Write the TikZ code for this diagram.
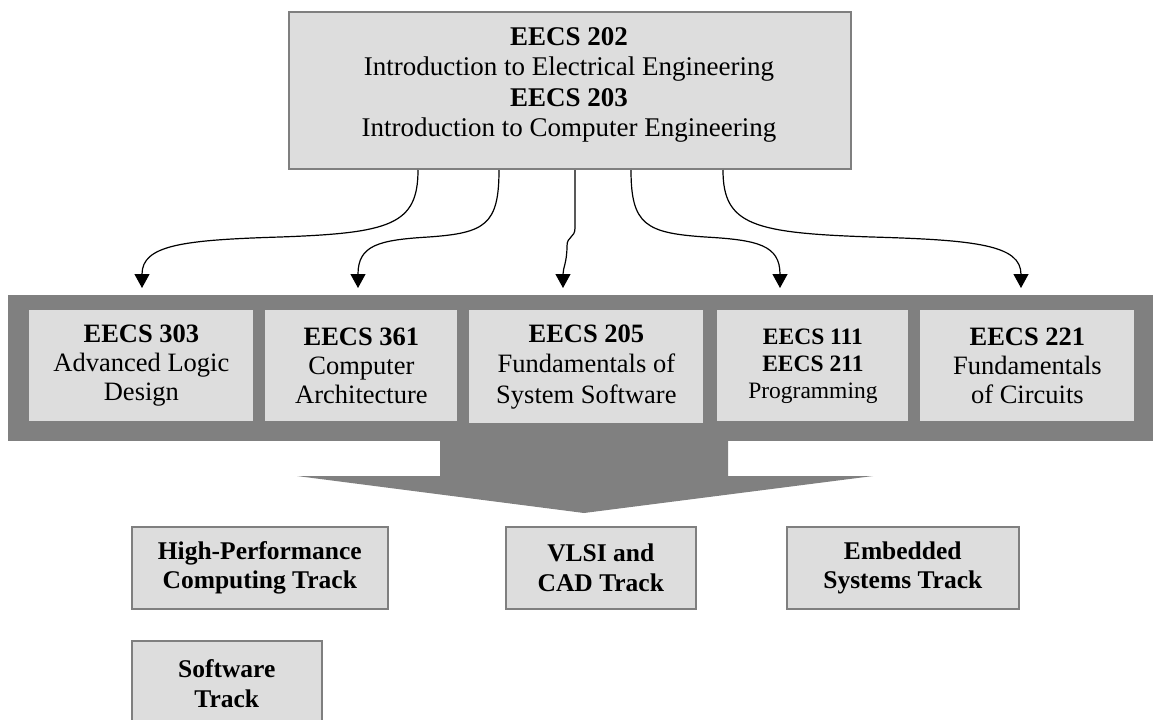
\documentclass[tikz,border=0pt]{standalone}
\usepackage{fontspec}
\setmainfont{Liberation Serif}
\usetikzlibrary{arrows.meta,calc}
\definecolor{boxgray}{HTML}{DDDDDD}
\definecolor{bandgray}{HTML}{808080}
\definecolor{linegray}{HTML}{7F7F7F}
\tikzset{
  topbox/.style={draw=linegray, line width=1pt, fill=boxgray, inner sep=0pt, anchor=north west},
  toptext/.style={align=center, inner sep=0pt, font=\fontsize{13.5}{15.15}\selectfont},
  course/.style={fill=boxgray, inner sep=0pt, anchor=north west, align=center, font=\fontsize{13.25}{14.5}\selectfont},
  coursesmall/.style={course, font=\fontsize{11.75}{13.5}\selectfont},
  track/.style={draw=linegray, line width=0.8pt, fill=boxgray, inner sep=0pt, anchor=north west, align=center, font=\fontsize{12.75}{14.75}\selectfont\bfseries},
  conn/.style={line width=0.6pt, -{Triangle[width=7.5pt,length=7pt]}},
}
\begin{document}
\begin{tikzpicture}[x=0.5pt,y=-0.5pt]
\clip (0,0) rectangle (1153,719);
\fill[white] (0,0) rectangle (1153,719);

% top box
\node[topbox, minimum width=281pt, minimum height=78.5pt] (top) at (288,11) {};
\node[toptext] (toptxt) at (569,85) {\textbf{EECS 202}\\Introduction to Electrical Engineering\\\textbf{EECS 203}\\Introduction to Computer Engineering};

% band and big arrow
\fill[bandgray] (8,295) rectangle (1153,441);
\fill[bandgray] (440,440) -- (728,440) -- (728,476) -- (873,476) -- (584,513) -- (297,476) -- (440,476) -- cycle;

% course boxes
\node[course, minimum width=112pt, minimum height=55.5pt] (c303) at (29,310) {\textbf{EECS 303}\\Advanced Logic\\Design};
\node[course, minimum width=96pt, minimum height=55.5pt] (c361) at (265,310) {\textbf{EECS 361}\\Computer\\Architecture};
\node[course, minimum width=117pt, minimum height=56.5pt, font=\fontsize{13.25}{15.25}\selectfont] (c205) at (469,310) {\textbf{EECS 205}\\Fundamentals of\\System Software};
\node[coursesmall, minimum width=95.5pt, minimum height=55.5pt] (c111) at (717,310) {\textbf{EECS 111}\\\textbf{EECS 211}\\Programming};
\node[course, minimum width=107pt, minimum height=55.5pt] (c221) at (920,310) {\textbf{EECS 221}\\Fundamentals\\of Circuits};

% track boxes
\node[track, minimum width=128pt, minimum height=41pt] (hpc) at (131,526) {High-Performance\\Computing Track};
\node[track, minimum width=95pt, minimum height=41pt] (vlsi) at (505,526) {VLSI and\\CAD Track};
\node[track, minimum width=116pt, minimum height=41pt] (emb) at (786,526) {Embedded\\Systems Track};
\node[track, minimum width=95pt, minimum height=43pt] (sw) at (131,640) {Software\\Track};

% connector end points
\coordinate (s1) at ($(top.south west)+(130,0)$);
\coordinate (s2) at ($(top.south west)+(211,0)$);
\coordinate (s3) at ($(top.south west)+(287,0)$);
\coordinate (s4) at ($(top.south west)+(343,0)$);
\coordinate (s5) at ($(top.south west)+(435,0)$);
\coordinate (e1) at (142,288);
\coordinate (e2) at (358,288);
\coordinate (e3) at (563,288);
\coordinate (e4) at (780,288);
\coordinate (e5) at (1021,288);

\draw[conn] (s1) .. controls (418,225) and (390,233) .. (280,237) .. controls (183,240) and (142,245) .. (e1);
\draw[conn] (s2) .. controls (499,225) and (485,233) .. (428.5,237) .. controls (379,240) and (358,245) .. (e2);
\draw[conn] (s3) -- (575,228) .. controls (575,238) and (567,236) .. (567,246) .. controls (567,262) and (563,268) .. (e3);
\draw[conn] (s4) .. controls (631,225) and (646,233) .. (705.5,237) .. controls (757.5,240) and (780,245) .. (e4);
\draw[conn] (s5) .. controls (723,225) and (753,233) .. (872,237) .. controls (976,240) and (1021,245) .. (e5);
\end{tikzpicture}
\end{document}
